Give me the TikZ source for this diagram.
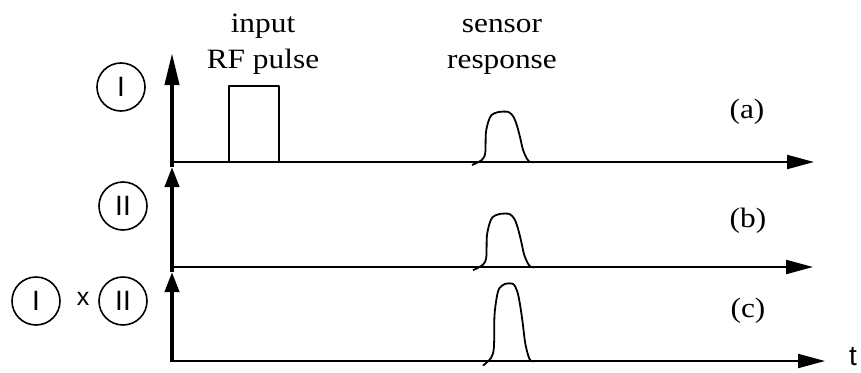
\documentclass[tikz,border=0pt]{standalone}
\usepackage{fontspec}
\setmainfont{Liberation Serif}
\newfontfamily\lblsans{Liberation Sans}
\newfontfamily\lblserif[FakeStretch=1.12]{Liberation Serif}
\usetikzlibrary{arrows.meta}

\tikzset{
  echo/.pic={
    \draw[signal] plot[smooth, tension=0.5] coordinates {(0,-0.06) (0.155,0.04) (0.21,0.18) (0.22,0.58) (0.26,0.81) (0.31,0.94) (0.42,1) (0.58,1) (0.66,0.9) (0.71,0.74) (0.76,0.51) (0.81,0.24) (0.87,0.07) (0.92,0) (1,0)};
  }
}

\begin{document}
\begin{tikzpicture}[x=1pt, y=-1pt,
      chan/.style={draw, circle, line width=1.6pt, minimum size=48pt, inner sep=0pt,
                   font=\lblsans\fontsize{28}{28}\selectfont},
      txt/.style={font=\lblserif\fontsize{28}{34}\selectfont},
      yaxis/.style={line width=4pt, -{Triangle[length=20pt, width=14pt]}},
      taxis/.style={line width=2pt, -{Triangle[length=27pt, width=14pt]}},
      signal/.style={line width=1.8pt, line join=round}
    ]
    \useasboundingbox (0,0) rectangle (861,372);

    % time axes
    \coordinate (a0) at (170,162);  \coordinate (atop) at (172,53);  \coordinate (aend) at (814,162);
    \coordinate (b0) at (170,267);  \coordinate (btop) at (172,167); \coordinate (bend) at (813,267);
    \coordinate (c0) at (172,362);  \coordinate (ctop) at (172,272); \coordinate (cend) at (825,361);

    \draw[yaxis, -{Triangle[length=32pt, width=14pt]}] (btop) -- (atop);
    \draw[yaxis] (ctop) -- (btop);
    \draw[yaxis] (c0) -- (ctop);

    \draw[taxis] (a0) -- (aend);
    \draw[taxis] (b0) -- (bend);
    \draw[taxis] (170,361) -- (cend);

    % input pulse and responses
    \draw[signal] (229,162) -- (229,86) -- (279,86) -- (279,162);
    \pic[xscale=63, yscale=-50] at (472,162) {echo};
    \pic[xscale=63, yscale=-53] at (473,267) {echo};
    \pic[xscale=52, yscale=-77] at (483,361) {echo};

    % labels
    \node[txt, anchor=base] (inp) at (263,32) {input};
    \node[txt, anchor=base] (rfp) at (263,68) {RF pulse};
    \node[txt, anchor=base] (sen) at (502,32) {sensor};
    \node[txt, anchor=base] (rsp) at (502,68) {response};
    \node[txt, anchor=base] (la) at (747,118) {(a)};
    \node[txt, anchor=base] (lb) at (748,227) {(b)};
    \node[txt, anchor=base] (lc) at (748,317) {(c)};
    \node[font=\lblsans\fontsize{28}{28}\selectfont, anchor=base east, inner sep=0pt] (tlbl) at (857,365) {t};

    \node[chan] (ia) at (121,87) {I};
    \node[chan] (iib) at (123,206) {II};
    \node[chan] (ic) at (36,301) {I};
    \node[chan] (iic) at (123,301) {II};
    \node[font=\lblsans\fontsize{25}{25}\selectfont, anchor=base] (times) at (83,305) {x};
  \end{tikzpicture}
\end{document}
